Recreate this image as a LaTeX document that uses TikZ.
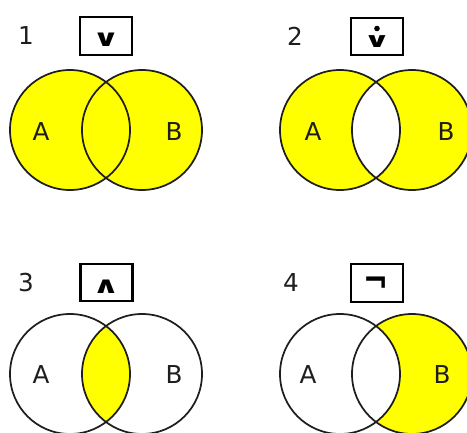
\documentclass[tikz,border=0pt]{standalone}
\usepackage{fontspec}
\setmainfont{DejaVu Sans}
\definecolor{venn}{RGB}{255,255,0}
\definecolor{ink}{RGB}{30,30,30}
\begin{document}
\begin{tikzpicture}[x=0.75pt,y=-0.75pt,
  lbl/.style={inner sep=0pt,font=\fontsize{18.5}{22}\selectfont,text=ink},
  opbox/.style={draw,line width=1.6pt,minimum width=39pt,minimum height=28pt,inner sep=0pt},
  opsym/.style={inner sep=0pt,font=\bfseries\fontsize{14}{16}\selectfont},
  ring/.style={line width=1.3pt,ink}]
\useasboundingbox (0,0) rectangle (467,432);
\def\R{60}
% ---------- panel 1: A or B
\fill[venn] (70,130) circle (\R) (142,130) circle (\R);
\draw[ring] (70,130) circle (\R) (142,130) circle (\R);
% ---------- panel 2: A xor B
\fill[venn,even odd rule] (340,130) circle (\R) (412,130) circle (\R);
\draw[ring] (340,130) circle (\R) (412,130) circle (\R);
% ---------- panel 3: A and B
\begin{scope}
  \clip (70,374) circle (\R);
  \fill[venn] (142,374) circle (\R);
\end{scope}
\draw[ring] (70,374) circle (\R) (142,374) circle (\R);
% ---------- panel 4: not A (within B)
\fill[venn] (412,374) circle (\R);
\fill[white] (340,374) circle (\R);
\draw[ring] (340,374) circle (\R) (412,374) circle (\R);
% ---------- numbers
\node[lbl] (n1) at (26,36) {1};
\node[lbl] (n2) at (295,36) {2};
\node[lbl] (n3) at (26,283) {3};
\node[lbl] (n4) at (291,283) {4};
% ---------- set labels
\node[lbl] (a1) at (41,132) {A};
\node[lbl] (b1) at (174,132) {B};
\node[lbl] (a2) at (313,132) {A};
\node[lbl] (b2) at (446,132) {B};
\node[lbl] (a3) at (41,375) {A};
\node[lbl] (b3) at (174,375) {B};
\node[lbl] (a4) at (308,375) {A};
\node[lbl] (b4) at (442,375) {B};
% ---------- operator boxes
\node[opbox] (o1) at (106,36) {};
\node[opsym] (o1s) at (106,39.5) {\scalebox{1.8}[1.25]{∨}};
\node[opbox] (o2) at (377,36.5) {};
\node[opsym] (o2s) at (377,42) {\scalebox{1.8}[1.1]{∨}};
\fill (377,28.5) circle (2.8) coordinate (o2dot);
\node[opbox] (o3) at (106.5,282.5) {};
\node[opsym] (o3s) at (106,286.5) {\scalebox{1.8}[1.25]{∧}};
\node[opbox] (o4) at (377,283) {};
\node[opsym] (o4s) at (376.5,285) {\scalebox{1.6}[2.0]{¬}};
\end{tikzpicture}
\end{document}
